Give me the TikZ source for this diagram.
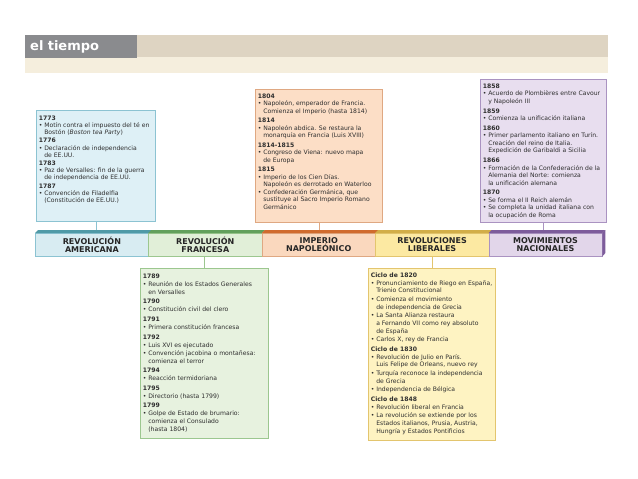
\documentclass[tikz,border=0pt]{standalone}
\usepackage{fontspec}
\setmainfont{DejaVu Sans}
\usepackage{xcolor}
\usetikzlibrary{positioning,calc}

\definecolor{titlegray}{HTML}{8A8B8E}
\definecolor{bandtan}{HTML}{DED4C2}
\definecolor{bandcream}{HTML}{F5EEDD}
\definecolor{inktext}{HTML}{2E2E2E}
% one fill, line, face and strip colour for each period
\definecolor{fillam}{HTML}{DEF0F6}\definecolor{lineam}{HTML}{8CC3D2}
\definecolor{faceam}{HTML}{D8ECF2}\definecolor{stripam}{HTML}{4F9AA7}
\definecolor{fillfr}{HTML}{E7F2DF}\definecolor{linefr}{HTML}{9CC78F}
\definecolor{facefr}{HTML}{E1EFD8}\definecolor{stripfr}{HTML}{62A05C}
\definecolor{fillnap}{HTML}{FCDEC6}\definecolor{linenap}{HTML}{DFA882}
\definecolor{facenap}{HTML}{FAD8BE}\definecolor{stripnap}{HTML}{D06B2E}
\definecolor{filllib}{HTML}{FEF3C2}\definecolor{linelib}{HTML}{E3C56E}
\definecolor{facelib}{HTML}{FCE9A2}\definecolor{striplib}{HTML}{D2AE48}
\definecolor{fillnac}{HTML}{E8DEEF}\definecolor{linenac}{HTML}{AA93C1}
\definecolor{facenac}{HTML}{E2D6EA}\definecolor{stripnac}{HTML}{7D5C9B}

\newcommand{\segfont}{\fontsize{8}{8}\selectfont\bfseries}
\newcommand{\evyear}[1]{\textbf{#1}}
\newcommand{\dotitem}{\makebox[5.5pt][l]{\textbullet}}
\newcommand{\dotgap}{\hspace*{5.5pt}}
% height, width, line step, lines
\newcommand{\evtext}[4]{\parbox[t][#1][t]{#2}{\fontsize{6.1}{#3}\selectfont\raggedright #4}}

\begin{document}
\begin{tikzpicture}[
  x=1pt, y=1pt,
  evbox/.style={draw, anchor=north west, inner xsep=2.6pt, inner ysep=4.6pt, text=inktext},
  seg/.style={
    anchor=north west, minimum width=113.4pt, minimum height=23pt,
    inner sep=0pt, align=center, font=\segfont, text=black!85,
  },
  link/.style={line width=0.6pt},
]
\useasboundingbox (0,0) rectangle (638,-479);
\fill[white] (0,0) rectangle (638,-479);
% header
\fill[bandtan] (137,-35) rectangle (608,-57);
\fill[bandcream] (25,-57) rectangle (608,-73);
\node[fill=titlegray, anchor=north west, minimum width=112pt, minimum height=22pt,
  inner sep=5pt, text=white, font=\fontsize{13}{13}\selectfont\bfseries,
  align=left, text width=102pt] (title) at (25,-35) {el tiempo};

% boxes above the bar
\node[evbox, fill=fillam, draw=lineam] (boxam) at (36,-110) {\evtext{102pt}{114pt}{7.1pt}{%
\vspace*{1pt}\evyear{1773}\\
\dotitem Motín contra el impuesto del té en\\
\dotgap Bostón (\textit{Boston tea Party})\\[1.3pt]
\evyear{1776}\\
\dotitem Declaración de independencia\\
\dotgap de EE.UU.\\[1.3pt]
\evyear{1783}\\
\dotitem Paz de Versalles: fin de la guerra\\
\dotgap de independencia de EE.UU.\\[1.3pt]
\evyear{1787}\\
\dotitem Convención de Filadelfia\\
\dotgap (Constitución de EE.UU.)}};

\node[evbox, fill=fillnap, draw=linenap] (boxnap) at (255,-89) {\evtext{124pt}{122pt}{7.5pt}{%
\evyear{1804}\\
\dotitem Napoleón, emperador de Francia.\\
\dotgap Comienza el Imperio (hasta 1814)\\[2pt]
\evyear{1814}\\
\dotitem Napoleón abdica. Se restaura la\\
\dotgap monarquía en Francia (Luis XVIII)\\[2pt]
\evyear{1814-1815}\\
\dotitem Congreso de Viena: nuevo mapa\\
\dotgap de Europa\\[2pt]
\evyear{1815}\\
\dotitem Imperio de los Cien Días.\\
\dotgap Napoleón es derrotado en Waterloo\\
\dotitem Confederación Germánica, que\\
\dotgap sustituye al Sacro Imperio Romano\\
\dotgap Germánico}};

\node[evbox, fill=fillnac, draw=linenac] (boxnac) at (480,-79) {\evtext{134pt}{121pt}{7.6pt}{%
\evyear{1858}\\
\dotitem Acuerdo de Plombières entre Cavour\\
\dotgap y Napoleón III\\[1.9pt]
\evyear{1859}\\
\dotitem Comienza la unificación italiana\\[1.9pt]
\evyear{1860}\\
\dotitem Primer parlamento italiano en Turín.\\
\dotgap Creación del reino de Italia.\\
\dotgap Expedición de Garibaldi a Sicilia\\[1.9pt]
\evyear{1866}\\
\dotitem Formación de la Confederación de la\\
\dotgap Alemania del Norte: comienza\\
\dotgap la unificación alemana\\[1.9pt]
\evyear{1870}\\
\dotitem Se forma el II Reich alemán\\
\dotitem Se completa la unidad italiana con\\
\dotgap la ocupación de Roma}};

% boxes below the bar
\node[evbox, fill=fillfr, draw=linefr] (boxfr) at (140,-268) {\evtext{161pt}{123pt}{8pt}{%
\vspace*{1pt}\evyear{1789}\\
\dotitem Reunión de los Estados Generales\\
\dotgap en Versalles\\[1.6pt]
\evyear{1790}\\
\dotitem Constitución civil del clero\\[1.6pt]
\evyear{1791}\\
\dotitem Primera constitución francesa\\[1.6pt]
\evyear{1792}\\
\dotitem Luis XVI es ejecutado\\
\dotitem Convención jacobina o montañesa:\\
\dotgap comienza el terror\\[1.6pt]
\evyear{1794}\\
\dotitem Reacción termidoriana\\[1.6pt]
\evyear{1795}\\
\dotitem Directorio (hasta 1799)\\[1.6pt]
\evyear{1799}\\
\dotitem Golpe de Estado de brumario:\\
\dotgap comienza el Consulado\\
\dotgap (hasta 1804)}};

\node[evbox, fill=filllib, draw=linelib] (boxlib) at (368,-268) {\evtext{163pt}{122pt}{7.6pt}{%
\evyear{Ciclo de 1820}\\
\dotitem Pronunciamiento de Riego en España,\\
\dotgap Trienio Constitucional\\[1.2pt]
\dotitem Comienza el movimiento\\
\dotgap de independencia de Grecia\\[1.2pt]
\dotitem La Santa Alianza restaura\\
\dotgap a Fernando VII como rey absoluto\\
\dotgap de España\\[1.2pt]
\dotitem Carlos X, rey de Francia\\[2pt]
\evyear{Ciclo de 1830}\\
\dotitem Revolución de Julio en París.\\
\dotgap Luis Felipe de Orleans, nuevo rey\\[1.2pt]
\dotitem Turquía reconoce la independencia\\
\dotgap de Grecia\\[1.2pt]
\dotitem Independencia de Bélgica\\[2pt]
\evyear{Ciclo de 1848}\\
\dotitem Revolución liberal en Francia\\[1.2pt]
\dotitem La revolución se extiende por los\\
\dotgap Estados italianos, Prusia, Austria,\\
\dotgap Hungría y Estados Pontificios}};

% the time bar
\foreach \key/\x/\lbl in {am/35/{REVOLUCIÓN\\AMERICANA}, fr/148.4/{REVOLUCIÓN\\FRANCESA},
  nap/261.8/{IMPERIO\\NAPOLEÓNICO}, lib/375.2/{REVOLUCIONES\\LIBERALES},
  nac/488.6/{MOVIMIENTOS\\NACIONALES}} {
  \node[seg, fill=face\key, draw=line\key] (seg\key) at (\x,-233) {\lbl};
}
\foreach \key in {am, nap, nac} {
  \draw[link, draw=line\key] (box\key.south) -- (box\key.south |- seg\key.north);
}
\foreach \key in {fr, lib} {
  \draw[link, draw=line\key] (box\key.north) -- (box\key.north |- seg\key.south);
}
\foreach \key in {am, fr, nap, lib, nac} {
  \fill[strip\key] (seg\key.north west) -- ++(3,3) -- ($(seg\key.north east)+(3,3)$)
    -- (seg\key.north east) -- cycle;
}
\fill[stripnac] (segnac.north east) -- ++(3,3) -- ++(0,-23) -- (segnac.south east) -- cycle;
\end{tikzpicture}
\end{document}
